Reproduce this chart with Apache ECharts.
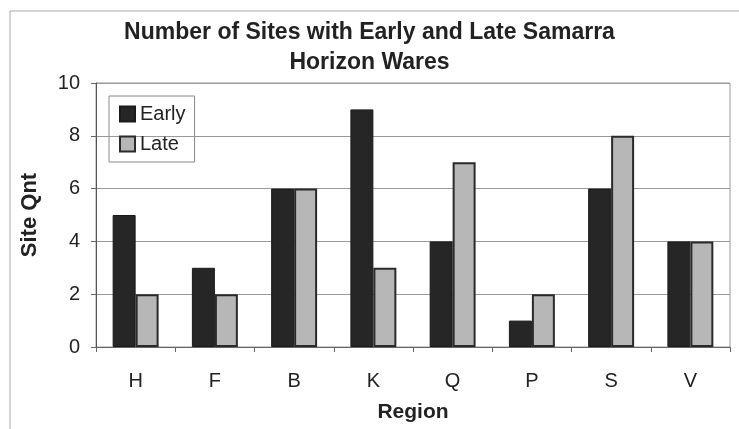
<!DOCTYPE html>
<html>
<head>
<meta charset="utf-8">
<script src="https://cdn.jsdelivr.net/npm/echarts@6/dist/echarts.min.js"></script>
<style>
  html, body { margin: 0; padding: 0; background: #fff; }
  #chart { width: 739px; height: 429px; }
</style>
</head>
<body>
<div id="chart"></div>
<script>
var regions = ['H', 'F', 'B', 'K', 'Q', 'P', 'S', 'V'];
var early = [5, 3, 6, 9, 4, 1, 6, 4];
var late = [2, 2, 6, 3, 7, 2, 8, 4];

var font = 'Liberation Sans, Arial, sans-serif';
var myChart = echarts.init(document.getElementById('chart'));

myChart.setOption({
  backgroundColor: '#fff',
  animation: false,
  title: {
    text: 'Number of Sites with Early and Late Samarra\nHorizon Wares',
    left: 'center',
    top: 13,
    textStyle: { fontFamily: font, fontSize: 23, fontWeight: 'bold', color: '#222', lineHeight: 30 }
  },
  graphic: [{
    type: 'rect',
    shape: { x: 10, y: 11, width: 760, height: 440 },
    style: { fill: 'none', stroke: '#aaa', lineWidth: 1 },
    silent: true
  }],
  legend: {
    orient: 'vertical',
    left: 109,
    top: 96,
    padding: [8, 9, 8, 10],
    icon: 'rect',
    itemWidth: 15,
    itemHeight: 15,
    itemGap: 10,
    borderColor: '#888',
    borderWidth: 1,
    textStyle: { fontFamily: font, fontSize: 20, color: '#222' },
    data: ['Early', 'Late']
  },
  grid: { left: 96, right: 9, top: 83, bottom: 82, show: true, borderColor: '#999', borderWidth: 1 },
  xAxis: {
    type: 'category',
    data: regions,
    name: 'Region',
    nameLocation: 'middle',
    nameGap: 55,
    nameTextStyle: { fontFamily: font, fontSize: 21, fontWeight: 'bold', color: '#222' },
    axisLine: { lineStyle: { color: '#666' } },
    axisTick: { show: true, length: 5, lineStyle: { color: '#666' } },
    axisLabel: { fontFamily: font, fontSize: 20, color: '#222', margin: 24 }
  },
  yAxis: {
    type: 'value',
    min: 0,
    max: 10,
    interval: 2,
    name: 'Site Qnt',
    nameLocation: 'middle',
    nameGap: 55,
    nameTextStyle: { fontFamily: font, fontSize: 22, fontWeight: 'bold', color: '#222' },
    axisLine: { show: true, lineStyle: { color: '#555' } },
    axisTick: { show: true, length: 5, lineStyle: { color: '#666' } },
    axisLabel: { fontFamily: font, fontSize: 20, color: '#222', margin: 16 },
    splitLine: { lineStyle: { color: '#999', width: 1 } }
  },
  series: [
    {
      name: 'Early',
      type: 'bar',
      data: early,
      barGap: '0%',
      barCategoryGap: '42%',
      itemStyle: { color: '#262626', borderColor: '#1a1a1a', borderWidth: 1 }
    },
    {
      name: 'Late',
      type: 'bar',
      data: late,
      itemStyle: { color: '#b7b7b7', borderColor: '#2a2a2a', borderWidth: 2 }
    }
  ]
});
</script>
</body>
</html>
